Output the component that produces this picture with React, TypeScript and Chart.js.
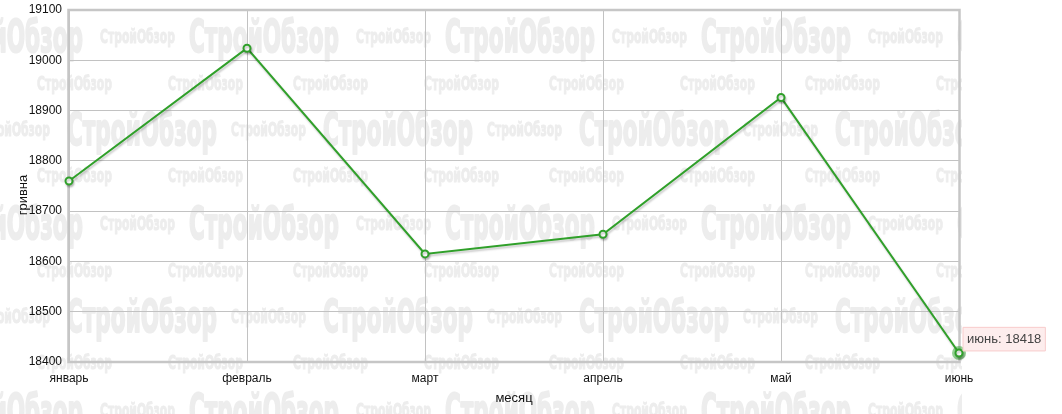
import React, { useEffect, useRef } from 'react';
import { Chart, registerables, Tooltip } from 'chart.js';

Chart.register(...registerables);

// ---- data ----
const months: string[] = ['январь', 'февраль', 'март', 'апрель', 'май', 'июнь'];
const prices: number[] = [18760, 19024, 18615, 18654, 18926, 18418];
const yMin = 18400;
const yMax = 19100;
const yStep = 100;
const xTitle = 'месяц';
const yTitle = 'гривна';
const watermarkText = 'СтройОбзор';
const highlightIndex = 5;

// ---- styles ----
const FONT = 'Arial, "Liberation Sans", sans-serif';
const GREEN = '#30a02a';
const GRID = '#c2c2c2';
const FRAME = '#c6c6c6';
const WM_COLOR = '#ededed';

(Tooltip.positioners as any).besidePoint = function (items: any[]) {
  if (!items.length) return false;
  const el = items[0].element;
  return { x: el.x + 4, y: el.y };
};

function drawWM(ctx: CanvasRenderingContext2D, x: number, cy: number, width: number, size: number) {
  ctx.font = `bold ${size}px "Liberation Sans Narrow", "DejaVu Sans Condensed", sans-serif`;
  const w = ctx.measureText(watermarkText).width;
  ctx.save();
  ctx.translate(x, cy + (size * 0.716) / 2);
  ctx.scale(width / w, 1);
  ctx.lineWidth = size > 30 ? 2 : 1;
  ctx.lineJoin = 'round';
  ctx.strokeText(watermarkText, 0, 0);
  ctx.fillText(watermarkText, 0, 0);
  ctx.restore();
}

const watermarkPlugin = {
  id: 'watermark',
  beforeDraw(chart: any) {
    const ctx: CanvasRenderingContext2D = chart.ctx;
    ctx.save();
    ctx.beginPath();
    ctx.rect(0, 0, 962, chart.height);
    ctx.clip();
    ctx.fillStyle = WM_COLOR;
    ctx.strokeStyle = WM_COLOR;
    ctx.textBaseline = 'alphabetic';
    ctx.textAlign = 'left';
    const P = 256;
    const V = 187;
    for (let r = -1; r <= 2; r++) {
      const base = 36 + V * r;
      for (let k = -1; k <= 4; k++) {
        const o = P * k;
        // row A
        drawWM(ctx, -67 + o, base, 150, 44);
        drawWM(ctx, 100 + o, base, 75, 20);
        // row B
        drawWM(ctx, 37 + o, base + 46.5, 75, 20);
        drawWM(ctx, 168 + o, base + 46.5, 75, 20);
        // row C
        drawWM(ctx, 67 + o, base + 93, 150, 44);
        drawWM(ctx, -25 + o, base + 93, 75, 20);
        // row D
        drawWM(ctx, 37 + o, base + 139, 75, 20);
        drawWM(ctx, 168 + o, base + 139, 75, 20);
      }
    }
    ctx.restore();
  },
};

const framePlugin = {
  id: 'frameShadow',
  beforeDatasetsDraw(chart: any) {
    const ctx: CanvasRenderingContext2D = chart.ctx;
    const a = chart.chartArea;
    ctx.save();
    ctx.strokeStyle = FRAME;
    ctx.lineWidth = 2.5;
    ctx.strokeRect(a.left - 0.5, a.top, a.right - a.left + 1, a.bottom - a.top);
    // hover halo
    const meta = chart.getDatasetMeta(0);
    const pt = meta.data[highlightIndex];
    if (pt) {
      ctx.beginPath();
      ctx.fillStyle = 'rgba(60,170,60,0.55)';
      ctx.arc(pt.x, pt.y, 7, 0, Math.PI * 2);
      ctx.fill();
    }
    ctx.restore();
    ctx.save();
    ctx.shadowColor = 'rgba(0,0,0,0.22)';
    ctx.shadowOffsetX = 1;
    ctx.shadowOffsetY = 2;
    ctx.shadowBlur = 2;
  },
  afterDatasetsDraw(chart: any) {
    chart.ctx.restore();
  },
};

const yTitlePlugin = {
  id: 'yTitle',
  afterDraw(chart: any) {
    const ctx: CanvasRenderingContext2D = chart.ctx;
    ctx.save();
    ctx.translate(27, 195);
    ctx.rotate(-Math.PI / 2);
    ctx.font = `13px ${FONT}`;
    ctx.fillStyle = '#111';
    ctx.textAlign = 'center';
    ctx.textBaseline = 'alphabetic';
    ctx.fillText(yTitle, 0, 0);
    ctx.restore();
  },
};

export default function App() {
  const ref = useRef<HTMLCanvasElement | null>(null);

  useEffect(() => {
    if (!ref.current) return;
    Chart.defaults.font.family = FONT;
    const chart = new Chart(ref.current, {
      type: 'line',
      data: {
        labels: months,
        datasets: [
          {
            label: yTitle,
            data: prices,
            borderColor: GREEN,
            borderWidth: 2,
            backgroundColor: '#ffffff',
            pointRadius: 3.5,
            pointBorderWidth: 2,
            pointBackgroundColor: '#ffffff',
            pointBorderColor: GREEN,
            pointHoverRadius: 3.5,
            pointHoverBorderWidth: 2,
            pointHoverBackgroundColor: '#ffffff',
            pointHoverBorderColor: GREEN,
            tension: 0,
            fill: false,
            clip: false as any,
          },
        ],
      },
      options: {
        responsive: false,
        animation: false,
        events: [],
        layout: { padding: { top: 10, right: 103, left: 0, bottom: 0 } },
        plugins: {
          legend: { display: false },
          title: { display: false },
          tooltip: {
            enabled: true,
            position: 'besidePoint' as any,
            xAlign: 'left',
            yAlign: 'bottom',
            caretSize: 0,
            caretPadding: 2,
            cornerRadius: 0,
            displayColors: false,
            backgroundColor: 'rgba(253,236,236,0.95)',
            borderColor: '#f8cccc',
            borderWidth: 1,
            bodyColor: '#444',
            bodyFont: { size: 13, family: FONT },
            padding: { top: 4, bottom: 4, left: 4, right: 4 },
            callbacks: {
              title: () => '',
              label: (c: any) => `${c.label}: ${c.parsed.y}`,
            },
          },
        },
        scales: {
          x: {
            type: 'category',
            offset: false,
            grid: { color: GRID, lineWidth: 1, drawTicks: false },
            border: { display: false },
            ticks: { color: '#111', font: { size: 12 }, padding: 9, maxRotation: 0, autoSkip: false },
            title: {
              display: true,
              text: xTitle,
              color: '#111',
              font: { size: 13 },
              padding: { top: 0, bottom: 8 },
            },
            afterFit: (s: any) => {
              s.height = 52;
            },
          },
          y: {
            min: yMin,
            max: yMax,
            grid: { color: GRID, lineWidth: 1, drawTicks: false },
            border: { display: false },
            ticks: {
              stepSize: yStep,
              color: '#111',
              font: { size: 12 },
              padding: 7,
              callback: (v: any) => String(v),
            },
            afterFit: (s: any) => {
              s.width = 69;
              s.paddingTop = 0;
              s.paddingBottom = 0;
            },
          },
        },
      },
      plugins: [watermarkPlugin, framePlugin, yTitlePlugin],
    });

    const active = [{ datasetIndex: 0, index: highlightIndex }];
    chart.setActiveElements(active);
    chart.tooltip?.setActiveElements(active, { x: 0, y: 0 });
    chart.update();

    return () => chart.destroy();
  }, []);

  return (
    <div style={{ position: 'absolute', left: 0, top: 0, width: 1062, height: 414, background: '#fff' }}>
      <canvas ref={ref} width={1062} height={414} style={{ display: 'block', width: 1062, height: 414 }} />
    </div>
  );
}
